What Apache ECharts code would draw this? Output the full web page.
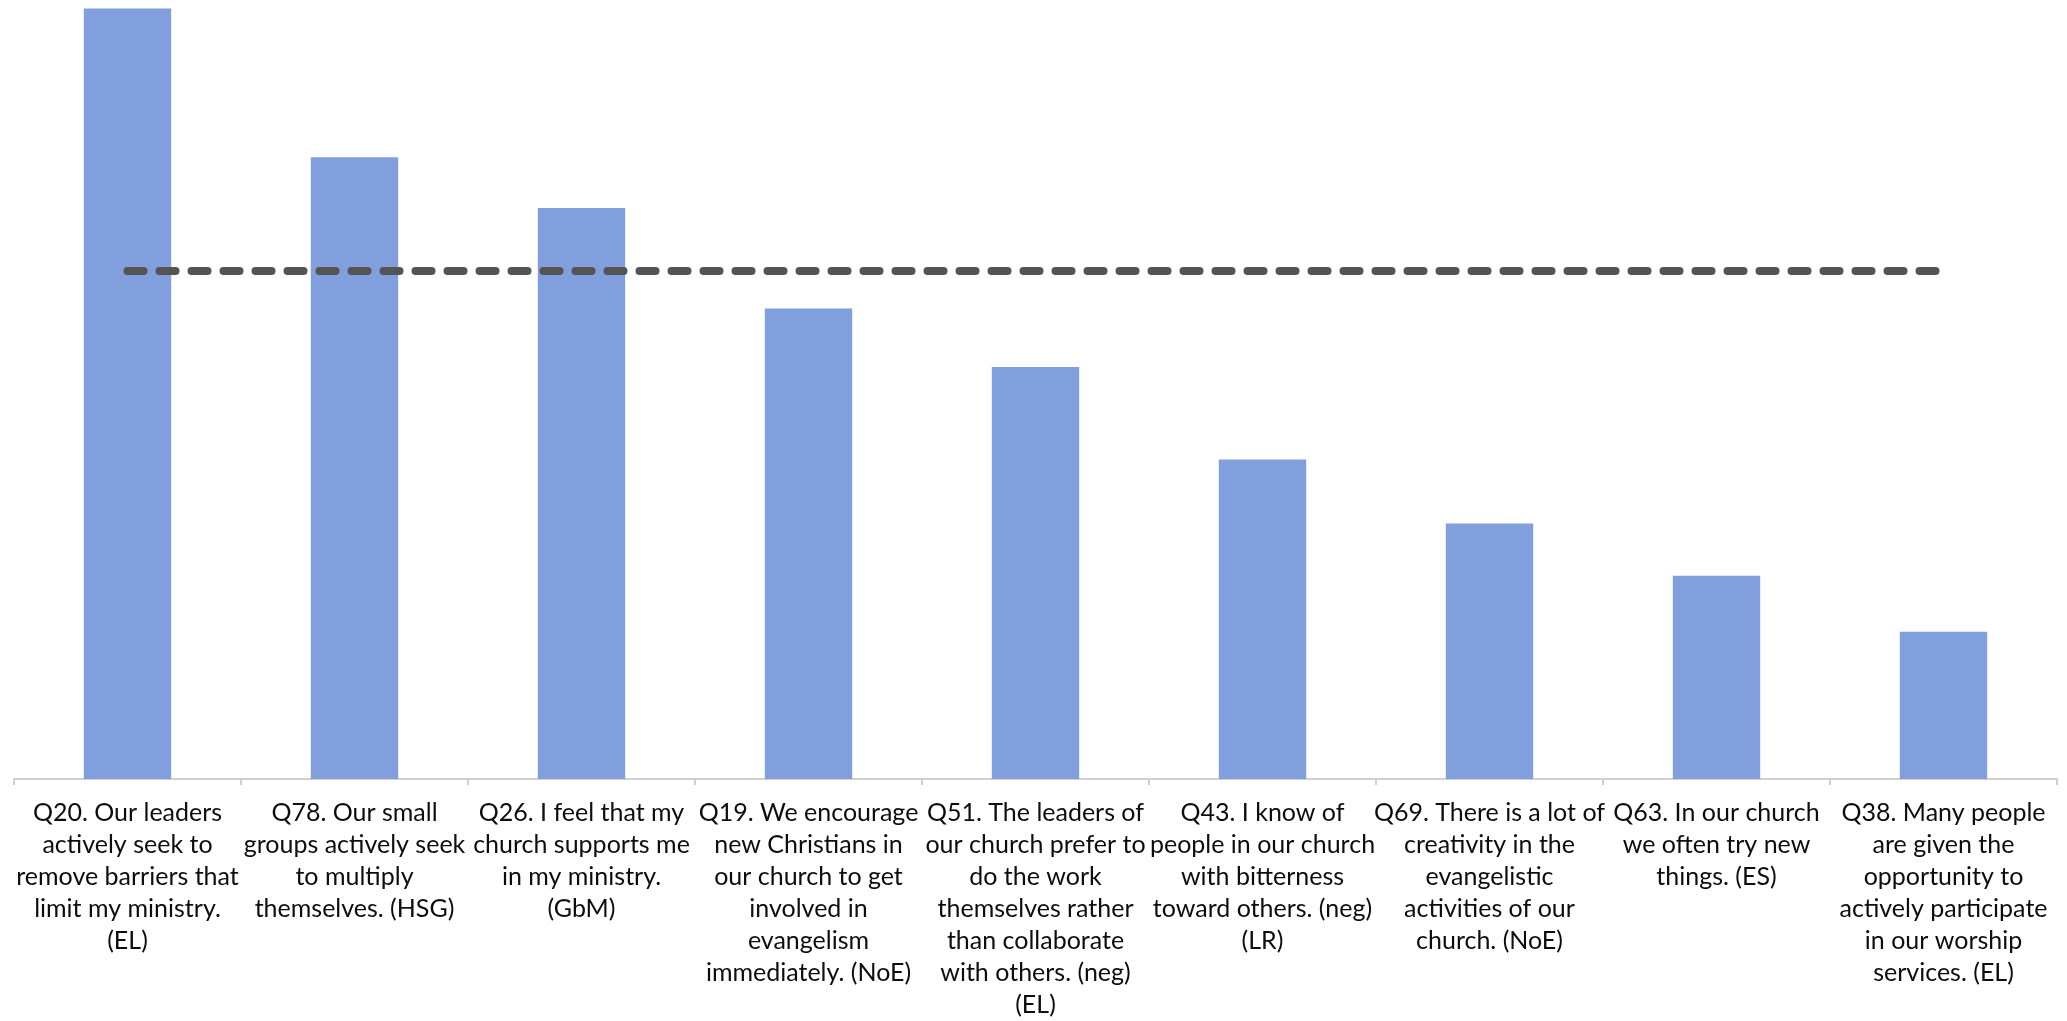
<!DOCTYPE html>
<html>
<head>
<meta charset="utf-8">
<script src="https://cdn.jsdelivr.net/npm/echarts@6/dist/echarts.min.js"></script>
<style>
html,body{margin:0;padding:0;background:#fff;}
#chart{width:2067px;height:1021px;}
</style>
</head>
<body>
<div id="chart"></div>
<script>
const categories = [
  "Q20. Our leaders\nactively seek to\nremove barriers that\nlimit my ministry.\n(EL)",
  "Q78. Our small\ngroups actively seek\nto multiply\nthemselves. (HSG)",
  "Q26. I feel that my\nchurch supports me\nin my ministry.\n(GbM)",
  "Q19. We encourage\nnew Christians in\nour church to get\ninvolved in\nevangelism\nimmediately. (NoE)",
  "Q51. The leaders of\nour church prefer to\ndo the work\nthemselves rather\nthan collaborate\nwith others. (neg)\n(EL)",
  "Q43. I know of\npeople in our church\nwith bitterness\ntoward others. (neg)\n(LR)",
  "Q69. There is a lot of\ncreativity in the\nevangelistic\nactivities of our\nchurch. (NoE)",
  "Q63. In our church\nwe often try new\nthings. (ES)",
  "Q38. Many people\nare given the\nopportunity to\nactively participate\nin our worship\nservices. (EL)"
];
const scores = [98.9, 79.8, 73.3, 60.4, 52.9, 41.0, 32.8, 26.1, 18.9];
const benchmark = 65.2;

const chart = echarts.init(document.getElementById('chart'), null, {renderer: 'canvas'});
chart.setOption({
  animation: false,
  backgroundColor: '#ffffff',
  grid: {left: 14, right: 10, top: 0, bottom: 238, containLabel: false},
  xAxis: {
    type: 'category',
    data: categories,
    boundaryGap: true,
    axisLine: {show: true, lineStyle: {color: '#d0d0d0', width: 2}},
    axisTick: {show: true, alignWithLabel: false, length: 6, lineStyle: {color: '#d0d0d0', width: 2}},
    axisLabel: {
      interval: 0,
      margin: 18,
      color: '#0d0d0d',
      fontFamily: 'Lato',
      fontSize: 25,
      lineHeight: 32,
      align: 'center'
    }
  },
  yAxis: {
    type: 'value',
    min: 0,
    max: 100,
    show: false,
    splitLine: {show: false}
  },
  series: [{
    type: 'bar',
    data: scores,
    barWidth: '38.5%',
    itemStyle: {color: '#819edd'},
    silent: true,
    markLine: {
      silent: true,
      symbol: ['none', 'none'],
      label: {show: false},
      lineStyle: {color: '#545454', width: 8, type: [16, 16], cap: 'round'},
      data: [[
        {xAxis: 0, yAxis: benchmark},
        {xAxis: categories.length - 1, yAxis: benchmark}
      ]]
    }
  }]
});
</script>
</body>
</html>
